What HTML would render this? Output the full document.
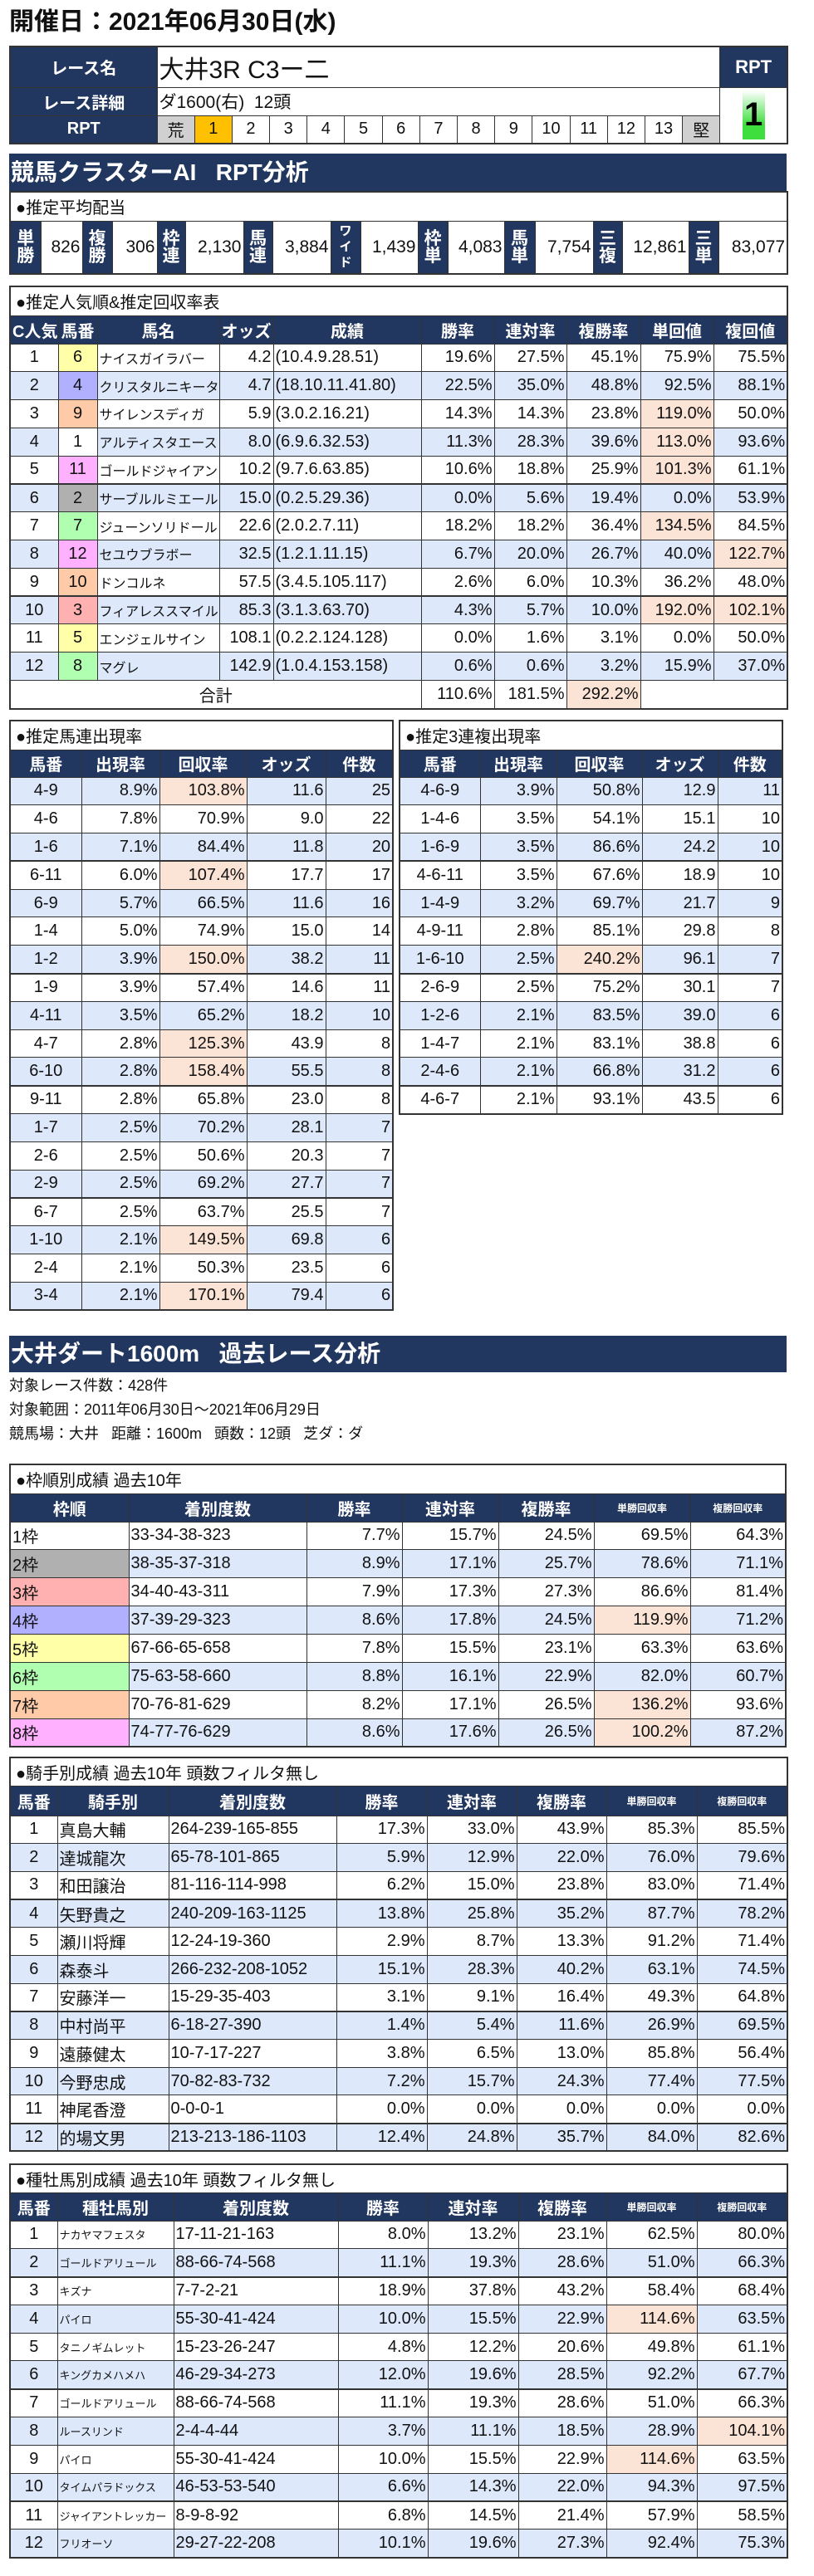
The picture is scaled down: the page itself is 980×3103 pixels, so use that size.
<!DOCTYPE html>
<html><head><meta charset="utf-8"><style>
*{margin:0;padding:0;box-sizing:border-box}
body{width:980px;height:3103px;position:relative;background:#fff;font-family:"Liberation Sans","Noto Sans CJK JP",sans-serif;color:#111;overflow:hidden}
.a{position:absolute}
table{border-collapse:collapse;table-layout:fixed;position:absolute}
td{border:1px solid #333;padding:0 2px;font-size:20px;white-space:nowrap;overflow:hidden;vertical-align:middle}
.h td{background:#22375f;color:#fff;font-weight:bold;text-align:center;font-size:20px}
.s td{font-size:20px;text-align:left;padding-left:6px}
.c{text-align:center}.r{text-align:right}.l{text-align:left}
.b td{background:#dde8fb}
.p{background:#fbe3d6!important}
.t td{border-top:2px solid #333}
.sm{font-size:12px!important}
.band{position:absolute;left:11px;width:936px;background:#22375f;color:#fff;font-weight:bold;font-size:28px;padding-left:2px}
.nm{font-size:16px}
</style></head><body>

<div class="a" style="left:11px;top:8px;font-size:30px;font-weight:bold;line-height:38px">開催日：2021年06月30日(水)</div>

<table style="left:11px;top:55px;width:936px;border:2px solid #333">
<colgroup><col style="width:177px"><col span="15" style="width:45.2px"><col style="width:81px"></colgroup>
<tr style="height:49px"><td style="background:#22375f;color:#fff;font-weight:bold;text-align:center;font-size:20px">レース名</td><td colspan="15" style="font-size:30px">大井3R C3ー二</td><td style="background:#22375f;color:#fff;font-weight:bold;text-align:center;font-size:22px">RPT</td></tr>
<tr style="height:34px"><td style="background:#22375f;color:#fff;font-weight:bold;text-align:center;font-size:20px">レース詳細</td><td colspan="15" style="font-size:21px">ダ1600(右)&nbsp;&nbsp;12頭</td><td rowspan="2" style="text-align:center;position:relative"><div style="margin:0 auto;width:27px;height:59px;background:linear-gradient(#fff,#3ede3e 70%);font-size:40px;font-weight:bold;line-height:59px;color:#000">1</div></td></tr>
<tr style="height:34px"><td style="background:#22375f;color:#fff;font-weight:bold;text-align:center;font-size:20px">RPT</td><td class="c" style="background:#d0d0d0">荒</td><td class="c" style="background:#ffc000">1</td><td class="c">2</td><td class="c">3</td><td class="c">4</td><td class="c">5</td><td class="c">6</td><td class="c">7</td><td class="c">8</td><td class="c">9</td><td class="c">10</td><td class="c">11</td><td class="c">12</td><td class="c">13</td><td class="c" style="background:#d0d0d0">堅</td></tr>
</table>

<div class="band" style="top:185px;height:45px;line-height:45px">競馬クラスターAI&nbsp;&nbsp;&nbsp;RPT分析</div>

<table style="left:11px;top:230px;width:936px;border:2px solid #333">
<colgroup><col style="width:37px"><col style="width:50px"><col style="width:36px"><col style="width:54px"><col style="width:34px"><col style="width:70px"><col style="width:35px"><col style="width:70px"><col style="width:36px"><col style="width:69px"><col style="width:36px"><col style="width:68px"><col style="width:37px"><col style="width:70px"><col style="width:35px"><col style="width:80px"><col style="width:36px"><col style="width:83px"></colgroup>
<tr class="s" style="height:35px"><td colspan="18">●推定平均配当</td></tr>
<tr style="height:64px" class="pay">
<td class="h2">単<br>勝</td><td class="r">826</td><td class="h2">複<br>勝</td><td class="r">306</td><td class="h2">枠<br>連</td><td class="r">2,130</td><td class="h2">馬<br>連</td><td class="r">3,884</td><td class="h2" style="font-size:15px;line-height:19px">ワ<br>イ<br>ド</td><td class="r">1,439</td><td class="h2">枠<br>単</td><td class="r">4,083</td><td class="h2">馬<br>単</td><td class="r">7,754</td><td class="h2">三<br>複</td><td class="r">12,861</td><td class="h2">三<br>単</td><td class="r">83,077</td></tr>
</table>
<style>.h2{background:#22375f;color:#fff;font-weight:bold;text-align:center;font-size:17px;line-height:21px;padding:0}.pay td{font-size:21px}</style>

<table style="left:11px;top:344px;width:936px;border:2px solid #333">
<colgroup><col style="width:58px"><col style="width:47px"><col style="width:147px"><col style="width:65px"><col style="width:178px"><col style="width:88px"><col style="width:87px"><col style="width:89px"><col style="width:88px"><col style="width:89px"></colgroup>
<tr class="s" style="height:35px"><td colspan="10">●推定人気順&amp;推定回収率表</td></tr>
<tr class="h" style="height:34px"><td>C人気</td><td>馬番</td><td>馬名</td><td>オッズ</td><td>成績</td><td>勝率</td><td>連対率</td><td>複勝率</td><td>単回値</td><td>複回値</td></tr>
<tr style="height:33.8px"><td class="c">1</td><td class="c" style="background:#ffffa8">6</td><td class="nm">ナイスガイラバー</td><td class="r">4.2</td><td>(10.4.9.28.51)</td><td class="r">19.6%</td><td class="r">27.5%</td><td class="r">45.1%</td><td class="r">75.9%</td><td class="r">75.5%</td></tr>
<tr class="b" style="height:33.8px"><td class="c">2</td><td class="c" style="background:#b0b0ff">4</td><td class="nm">クリスタルニキータ</td><td class="r">4.7</td><td>(18.10.11.41.80)</td><td class="r">22.5%</td><td class="r">35.0%</td><td class="r">48.8%</td><td class="r">92.5%</td><td class="r">88.1%</td></tr>
<tr style="height:33.8px"><td class="c">3</td><td class="c" style="background:#ffcaa8">9</td><td class="nm">サイレンスディガ</td><td class="r">5.9</td><td>(3.0.2.16.21)</td><td class="r">14.3%</td><td class="r">14.3%</td><td class="r">23.8%</td><td class="r p">119.0%</td><td class="r">50.0%</td></tr>
<tr class="b" style="height:33.8px"><td class="c">4</td><td class="c" style="background:#fff">1</td><td class="nm">アルティスタエース</td><td class="r">8.0</td><td>(6.9.6.32.53)</td><td class="r">11.3%</td><td class="r">28.3%</td><td class="r">39.6%</td><td class="r p">113.0%</td><td class="r">93.6%</td></tr>
<tr style="height:33.8px"><td class="c">5</td><td class="c" style="background:#ffb0ff">11</td><td class="nm">ゴールドジャイアン</td><td class="r">10.2</td><td>(9.7.6.63.85)</td><td class="r">10.6%</td><td class="r">18.8%</td><td class="r">25.9%</td><td class="r p">101.3%</td><td class="r">61.1%</td></tr>
<tr class="b t" style="height:33.8px"><td class="c">6</td><td class="c" style="background:#b0b0b0">2</td><td class="nm">サーブルルミエール</td><td class="r">15.0</td><td>(0.2.5.29.36)</td><td class="r">0.0%</td><td class="r">5.6%</td><td class="r">19.4%</td><td class="r">0.0%</td><td class="r">53.9%</td></tr>
<tr style="height:33.8px"><td class="c">7</td><td class="c" style="background:#b0ffb0">7</td><td class="nm">ジューンソリドール</td><td class="r">22.6</td><td>(2.0.2.7.11)</td><td class="r">18.2%</td><td class="r">18.2%</td><td class="r">36.4%</td><td class="r p">134.5%</td><td class="r">84.5%</td></tr>
<tr class="b" style="height:33.8px"><td class="c">8</td><td class="c" style="background:#ffb0ff">12</td><td class="nm">セユウブラボー</td><td class="r">32.5</td><td>(1.2.1.11.15)</td><td class="r">6.7%</td><td class="r">20.0%</td><td class="r">26.7%</td><td class="r">40.0%</td><td class="r p">122.7%</td></tr>
<tr style="height:33.8px"><td class="c">9</td><td class="c" style="background:#ffcaa8">10</td><td class="nm">ドンコルネ</td><td class="r">57.5</td><td>(3.4.5.105.117)</td><td class="r">2.6%</td><td class="r">6.0%</td><td class="r">10.3%</td><td class="r">36.2%</td><td class="r">48.0%</td></tr>
<tr class="b t" style="height:33.8px"><td class="c">10</td><td class="c" style="background:#ffb0b0">3</td><td class="nm">フィアレススマイル</td><td class="r">85.3</td><td>(3.1.3.63.70)</td><td class="r">4.3%</td><td class="r">5.7%</td><td class="r">10.0%</td><td class="r p">192.0%</td><td class="r p">102.1%</td></tr>
<tr style="height:33.8px"><td class="c">11</td><td class="c" style="background:#ffffa8">5</td><td class="nm">エンジェルサイン</td><td class="r">108.1</td><td>(0.2.2.124.128)</td><td class="r">0.0%</td><td class="r">1.6%</td><td class="r">3.1%</td><td class="r">0.0%</td><td class="r">50.0%</td></tr>
<tr class="b" style="height:33.8px"><td class="c">12</td><td class="c" style="background:#b0ffb0">8</td><td class="nm">マグレ</td><td class="r">142.9</td><td>(1.0.4.153.158)</td><td class="r">0.6%</td><td class="r">0.6%</td><td class="r">3.2%</td><td class="r">15.9%</td><td class="r">37.0%</td></tr>
<tr style="height:34px"><td colspan="5" class="c">合計</td><td class="r">110.6%</td><td class="r">181.5%</td><td class="r p">292.2%</td><td colspan="2"></td></tr>
</table>

<table style="left:11px;top:867px;width:461px;border:2px solid #333">
<colgroup><col style="width:86px"><col style="width:94px"><col style="width:105px"><col style="width:95px"><col style="width:81px"></colgroup>
<tr class="s" style="height:35px"><td colspan="5">●推定馬連出現率</td></tr>
<tr class="h" style="height:33px"><td>馬番</td><td>出現率</td><td>回収率</td><td>オッズ</td><td>件数</td></tr>
<tr class="b" style="height:33.8px"><td class="c">4-9</td><td class="r">8.9%</td><td class="r p">103.8%</td><td class="r">11.6</td><td class="r">25</td></tr>
<tr style="height:33.8px"><td class="c">4-6</td><td class="r">7.8%</td><td class="r">70.9%</td><td class="r">9.0</td><td class="r">22</td></tr>
<tr class="b" style="height:33.8px"><td class="c">1-6</td><td class="r">7.1%</td><td class="r">84.4%</td><td class="r">11.8</td><td class="r">20</td></tr>
<tr class="t" style="height:33.8px"><td class="c">6-11</td><td class="r">6.0%</td><td class="r p">107.4%</td><td class="r">17.7</td><td class="r">17</td></tr>
<tr class="b" style="height:33.8px"><td class="c">6-9</td><td class="r">5.7%</td><td class="r">66.5%</td><td class="r">11.6</td><td class="r">16</td></tr>
<tr style="height:33.8px"><td class="c">1-4</td><td class="r">5.0%</td><td class="r">74.9%</td><td class="r">15.0</td><td class="r">14</td></tr>
<tr class="b" style="height:33.8px"><td class="c">1-2</td><td class="r">3.9%</td><td class="r p">150.0%</td><td class="r">38.2</td><td class="r">11</td></tr>
<tr class="t" style="height:33.8px"><td class="c">1-9</td><td class="r">3.9%</td><td class="r">57.4%</td><td class="r">14.6</td><td class="r">11</td></tr>
<tr class="b" style="height:33.8px"><td class="c">4-11</td><td class="r">3.5%</td><td class="r">65.2%</td><td class="r">18.2</td><td class="r">10</td></tr>
<tr style="height:33.8px"><td class="c">4-7</td><td class="r">2.8%</td><td class="r p">125.3%</td><td class="r">43.9</td><td class="r">8</td></tr>
<tr class="b" style="height:33.8px"><td class="c">6-10</td><td class="r">2.8%</td><td class="r p">158.4%</td><td class="r">55.5</td><td class="r">8</td></tr>
<tr class="t" style="height:33.8px"><td class="c">9-11</td><td class="r">2.8%</td><td class="r">65.8%</td><td class="r">23.0</td><td class="r">8</td></tr>
<tr class="b" style="height:33.8px"><td class="c">1-7</td><td class="r">2.5%</td><td class="r">70.2%</td><td class="r">28.1</td><td class="r">7</td></tr>
<tr style="height:33.8px"><td class="c">2-6</td><td class="r">2.5%</td><td class="r">50.6%</td><td class="r">20.3</td><td class="r">7</td></tr>
<tr class="b" style="height:33.8px"><td class="c">2-9</td><td class="r">2.5%</td><td class="r">69.2%</td><td class="r">27.7</td><td class="r">7</td></tr>
<tr class="t" style="height:33.8px"><td class="c">6-7</td><td class="r">2.5%</td><td class="r">63.7%</td><td class="r">25.5</td><td class="r">7</td></tr>
<tr class="b" style="height:33.8px"><td class="c">1-10</td><td class="r">2.1%</td><td class="r p">149.5%</td><td class="r">69.8</td><td class="r">6</td></tr>
<tr style="height:33.8px"><td class="c">2-4</td><td class="r">2.1%</td><td class="r">50.3%</td><td class="r">23.5</td><td class="r">6</td></tr>
<tr class="b" style="height:33.8px"><td class="c">3-4</td><td class="r">2.1%</td><td class="r p">170.1%</td><td class="r">79.4</td><td class="r">6</td></tr>
</table>

<table style="left:480px;top:867px;width:461px;border:2px solid #333">
<colgroup><col style="width:97px"><col style="width:92px"><col style="width:103px"><col style="width:91px"><col style="width:78px"></colgroup>
<tr class="s" style="height:35px"><td colspan="5">●推定3連複出現率</td></tr>
<tr class="h" style="height:33px"><td>馬番</td><td>出現率</td><td>回収率</td><td>オッズ</td><td>件数</td></tr>
<tr class="b" style="height:33.8px"><td class="c">4-6-9</td><td class="r">3.9%</td><td class="r">50.8%</td><td class="r">12.9</td><td class="r">11</td></tr>
<tr style="height:33.8px"><td class="c">1-4-6</td><td class="r">3.5%</td><td class="r">54.1%</td><td class="r">15.1</td><td class="r">10</td></tr>
<tr class="b" style="height:33.8px"><td class="c">1-6-9</td><td class="r">3.5%</td><td class="r">86.6%</td><td class="r">24.2</td><td class="r">10</td></tr>
<tr class="t" style="height:33.8px"><td class="c">4-6-11</td><td class="r">3.5%</td><td class="r">67.6%</td><td class="r">18.9</td><td class="r">10</td></tr>
<tr class="b" style="height:33.8px"><td class="c">1-4-9</td><td class="r">3.2%</td><td class="r">69.7%</td><td class="r">21.7</td><td class="r">9</td></tr>
<tr style="height:33.8px"><td class="c">4-9-11</td><td class="r">2.8%</td><td class="r">85.1%</td><td class="r">29.8</td><td class="r">8</td></tr>
<tr class="b" style="height:33.8px"><td class="c">1-6-10</td><td class="r">2.5%</td><td class="r p">240.2%</td><td class="r">96.1</td><td class="r">7</td></tr>
<tr class="t" style="height:33.8px"><td class="c">2-6-9</td><td class="r">2.5%</td><td class="r">75.2%</td><td class="r">30.1</td><td class="r">7</td></tr>
<tr class="b" style="height:33.8px"><td class="c">1-2-6</td><td class="r">2.1%</td><td class="r">83.5%</td><td class="r">39.0</td><td class="r">6</td></tr>
<tr style="height:33.8px"><td class="c">1-4-7</td><td class="r">2.1%</td><td class="r">83.1%</td><td class="r">38.8</td><td class="r">6</td></tr>
<tr class="b" style="height:33.8px"><td class="c">2-4-6</td><td class="r">2.1%</td><td class="r">66.8%</td><td class="r">31.2</td><td class="r">6</td></tr>
<tr class="t" style="height:33.8px"><td class="c">4-6-7</td><td class="r">2.1%</td><td class="r">93.1%</td><td class="r">43.5</td><td class="r">6</td></tr>
</table>

<div class="band" style="top:1609px;height:44px;line-height:44px">大井ダート1600m&nbsp;&nbsp;&nbsp;過去レース分析</div>
<div class="a" style="left:11px;top:1655px;font-size:18px;line-height:29px">対象レース件数：428件<br>対象範囲：2011年06月30日～2021年06月29日<br>競馬場：大井&nbsp;&nbsp;&nbsp;距離：1600m&nbsp;&nbsp;&nbsp;頭数：12頭&nbsp;&nbsp;&nbsp;芝ダ：ダ</div>

<table style="left:11px;top:1763px;width:936px;border:2px solid #333">
<colgroup><col style="width:143px"><col style="width:214px"><col style="width:115px"><col style="width:116px"><col style="width:115px"><col style="width:116px"><col style="width:115px"></colgroup>
<tr class="s" style="height:35px"><td colspan="7">●枠順別成績 過去10年</td></tr>
<tr class="h" style="height:34px"><td>枠順</td><td>着別度数</td><td>勝率</td><td>連対率</td><td>複勝率</td><td class="sm">単勝回収率</td><td class="sm">複勝回収率</td></tr>
<tr style="height:33.9px"><td>1枠</td><td>33-34-38-323</td><td class="r">7.7%</td><td class="r">15.7%</td><td class="r">24.5%</td><td class="r">69.5%</td><td class="r">64.3%</td></tr>
<tr class="b" style="height:33.9px"><td style="background:#b0b0b0">2枠</td><td>38-35-37-318</td><td class="r">8.9%</td><td class="r">17.1%</td><td class="r">25.7%</td><td class="r">78.6%</td><td class="r">71.1%</td></tr>
<tr style="height:33.9px"><td style="background:#ffb0b0">3枠</td><td>34-40-43-311</td><td class="r">7.9%</td><td class="r">17.3%</td><td class="r">27.3%</td><td class="r">86.6%</td><td class="r">81.4%</td></tr>
<tr class="b" style="height:33.9px"><td style="background:#b0b0ff">4枠</td><td>37-39-29-323</td><td class="r">8.6%</td><td class="r">17.8%</td><td class="r">24.5%</td><td class="r p">119.9%</td><td class="r">71.2%</td></tr>
<tr style="height:33.9px"><td style="background:#ffffa8">5枠</td><td>67-66-65-658</td><td class="r">7.8%</td><td class="r">15.5%</td><td class="r">23.1%</td><td class="r">63.3%</td><td class="r">63.6%</td></tr>
<tr class="b" style="height:33.9px"><td style="background:#b0ffb0">6枠</td><td>75-63-58-660</td><td class="r">8.8%</td><td class="r">16.1%</td><td class="r">22.9%</td><td class="r">82.0%</td><td class="r">60.7%</td></tr>
<tr style="height:33.9px"><td style="background:#ffcaa8">7枠</td><td>70-76-81-629</td><td class="r">8.2%</td><td class="r">17.1%</td><td class="r">26.5%</td><td class="r p">136.2%</td><td class="r">93.6%</td></tr>
<tr class="b" style="height:33.9px"><td style="background:#ffb0ff">8枠</td><td>74-77-76-629</td><td class="r">8.6%</td><td class="r">17.6%</td><td class="r">26.5%</td><td class="r p">100.2%</td><td class="r">87.2%</td></tr>
</table>

<table style="left:11px;top:2116px;width:936px;border:2px solid #333">
<colgroup><col style="width:57px"><col style="width:134px"><col style="width:202px"><col style="width:109px"><col style="width:108px"><col style="width:108px"><col style="width:109px"><col style="width:109px"></colgroup>
<tr class="s" style="height:34px"><td colspan="8">●騎手別成績 過去10年 頭数フィルタ無し</td></tr>
<tr class="h" style="height:36px"><td>馬番</td><td>騎手別</td><td>着別度数</td><td>勝率</td><td>連対率</td><td>複勝率</td><td class="sm">単勝回収率</td><td class="sm">複勝回収率</td></tr>
<tr style="height:33.7px"><td class="c">1</td><td>真島大輔</td><td>264-239-165-855</td><td class="r">17.3%</td><td class="r">33.0%</td><td class="r">43.9%</td><td class="r">85.3%</td><td class="r">85.5%</td></tr>
<tr class="b" style="height:33.7px"><td class="c">2</td><td>達城龍次</td><td>65-78-101-865</td><td class="r">5.9%</td><td class="r">12.9%</td><td class="r">22.0%</td><td class="r">76.0%</td><td class="r">79.6%</td></tr>
<tr style="height:33.7px"><td class="c">3</td><td>和田譲治</td><td>81-116-114-998</td><td class="r">6.2%</td><td class="r">15.0%</td><td class="r">23.8%</td><td class="r">83.0%</td><td class="r">71.4%</td></tr>
<tr class="b t" style="height:33.7px"><td class="c">4</td><td>矢野貴之</td><td>240-209-163-1125</td><td class="r">13.8%</td><td class="r">25.8%</td><td class="r">35.2%</td><td class="r">87.7%</td><td class="r">78.2%</td></tr>
<tr style="height:33.7px"><td class="c">5</td><td>瀬川将輝</td><td>12-24-19-360</td><td class="r">2.9%</td><td class="r">8.7%</td><td class="r">13.3%</td><td class="r">91.2%</td><td class="r">71.4%</td></tr>
<tr class="b" style="height:33.7px"><td class="c">6</td><td>森泰斗</td><td>266-232-208-1052</td><td class="r">15.1%</td><td class="r">28.3%</td><td class="r">40.2%</td><td class="r">63.1%</td><td class="r">74.5%</td></tr>
<tr style="height:33.7px"><td class="c">7</td><td>安藤洋一</td><td>15-29-35-403</td><td class="r">3.1%</td><td class="r">9.1%</td><td class="r">16.4%</td><td class="r">49.3%</td><td class="r">64.8%</td></tr>
<tr class="b t" style="height:33.7px"><td class="c">8</td><td>中村尚平</td><td>6-18-27-390</td><td class="r">1.4%</td><td class="r">5.4%</td><td class="r">11.6%</td><td class="r">26.9%</td><td class="r">69.5%</td></tr>
<tr style="height:33.7px"><td class="c">9</td><td>遠藤健太</td><td>10-7-17-227</td><td class="r">3.8%</td><td class="r">6.5%</td><td class="r">13.0%</td><td class="r">85.8%</td><td class="r">56.4%</td></tr>
<tr class="b" style="height:33.7px"><td class="c">10</td><td>今野忠成</td><td>70-82-83-732</td><td class="r">7.2%</td><td class="r">15.7%</td><td class="r">24.3%</td><td class="r">77.4%</td><td class="r">77.5%</td></tr>
<tr style="height:33.7px"><td class="c">11</td><td>神尾香澄</td><td>0-0-0-1</td><td class="r">0.0%</td><td class="r">0.0%</td><td class="r">0.0%</td><td class="r">0.0%</td><td class="r">0.0%</td></tr>
<tr class="b t" style="height:33.7px"><td class="c">12</td><td>的場文男</td><td>213-213-186-1103</td><td class="r">12.4%</td><td class="r">24.8%</td><td class="r">35.7%</td><td class="r">84.0%</td><td class="r">82.6%</td></tr>
</table>

<table style="left:11px;top:2606px;width:936px;border:2px solid #333">
<colgroup><col style="width:57px"><col style="width:140px"><col style="width:198px"><col style="width:108px"><col style="width:109px"><col style="width:106px"><col style="width:109px"><col style="width:109px"></colgroup>
<tr class="s" style="height:34px"><td colspan="8">●種牡馬別成績 過去10年 頭数フィルタ無し</td></tr>
<tr class="h" style="height:34px"><td>馬番</td><td>種牡馬別</td><td>着別度数</td><td>勝率</td><td>連対率</td><td>複勝率</td><td class="sm">単勝回収率</td><td class="sm">複勝回収率</td></tr>
<tr style="height:33.8px"><td class="c">1</td><td style="font-size:13px">ナカヤマフェスタ</td><td>17-11-21-163</td><td class="r">8.0%</td><td class="r">13.2%</td><td class="r">23.1%</td><td class="r">62.5%</td><td class="r">80.0%</td></tr>
<tr class="b" style="height:33.8px"><td class="c">2</td><td style="font-size:13px">ゴールドアリュール</td><td>88-66-74-568</td><td class="r">11.1%</td><td class="r">19.3%</td><td class="r">28.6%</td><td class="r">51.0%</td><td class="r">66.3%</td></tr>
<tr class="t" style="height:33.8px"><td class="c">3</td><td style="font-size:13px">キズナ</td><td>7-7-2-21</td><td class="r">18.9%</td><td class="r">37.8%</td><td class="r">43.2%</td><td class="r">58.4%</td><td class="r">68.4%</td></tr>
<tr class="b" style="height:33.8px"><td class="c">4</td><td style="font-size:13px">パイロ</td><td>55-30-41-424</td><td class="r">10.0%</td><td class="r">15.5%</td><td class="r">22.9%</td><td class="r p">114.6%</td><td class="r">63.5%</td></tr>
<tr style="height:33.8px"><td class="c">5</td><td style="font-size:13px">タニノギムレット</td><td>15-23-26-247</td><td class="r">4.8%</td><td class="r">12.2%</td><td class="r">20.6%</td><td class="r">49.8%</td><td class="r">61.1%</td></tr>
<tr class="b" style="height:33.8px"><td class="c">6</td><td style="font-size:13px">キングカメハメハ</td><td>46-29-34-273</td><td class="r">12.0%</td><td class="r">19.6%</td><td class="r">28.5%</td><td class="r">92.2%</td><td class="r">67.7%</td></tr>
<tr class="t" style="height:33.8px"><td class="c">7</td><td style="font-size:13px">ゴールドアリュール</td><td>88-66-74-568</td><td class="r">11.1%</td><td class="r">19.3%</td><td class="r">28.6%</td><td class="r">51.0%</td><td class="r">66.3%</td></tr>
<tr class="b" style="height:33.8px"><td class="c">8</td><td style="font-size:13px">ルースリンド</td><td>2-4-4-44</td><td class="r">3.7%</td><td class="r">11.1%</td><td class="r">18.5%</td><td class="r">28.9%</td><td class="r p">104.1%</td></tr>
<tr style="height:33.8px"><td class="c">9</td><td style="font-size:13px">パイロ</td><td>55-30-41-424</td><td class="r">10.0%</td><td class="r">15.5%</td><td class="r">22.9%</td><td class="r p">114.6%</td><td class="r">63.5%</td></tr>
<tr class="b" style="height:33.8px"><td class="c">10</td><td style="font-size:13px">タイムパラドックス</td><td>46-53-53-540</td><td class="r">6.6%</td><td class="r">14.3%</td><td class="r">22.0%</td><td class="r">94.3%</td><td class="r">97.5%</td></tr>
<tr class="t" style="height:33.8px"><td class="c">11</td><td style="font-size:13px">ジャイアントレッカー</td><td>8-9-8-92</td><td class="r">6.8%</td><td class="r">14.5%</td><td class="r">21.4%</td><td class="r">57.9%</td><td class="r">58.5%</td></tr>
<tr class="b" style="height:33.8px"><td class="c">12</td><td style="font-size:13px">フリオーソ</td><td>29-27-22-208</td><td class="r">10.1%</td><td class="r">19.6%</td><td class="r">27.3%</td><td class="r">92.4%</td><td class="r">75.3%</td></tr>
</table>
</body></html>
